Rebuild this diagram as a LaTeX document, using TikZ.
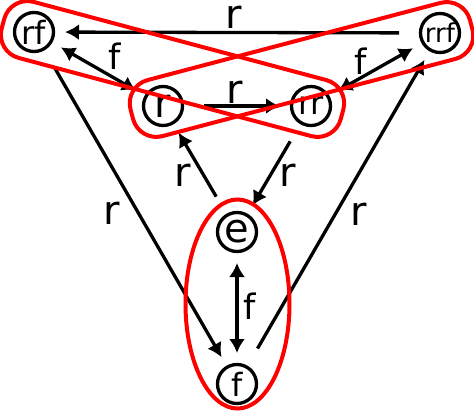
\documentclass[tikz,border=0pt]{standalone}
\usepackage{fontspec}
\setmainfont{DejaVu Sans}
\usetikzlibrary{arrows.meta,calc,shapes.geometric}
\begin{document}
\begin{tikzpicture}
      [x=1pt,y=-1pt,
      point/.style={circle,draw,line width=3.3pt,inner sep=0pt,minimum size=39pt,outer sep=11.5pt},
      txt/.style={font=\fontsize{#1}{#1}\selectfont,inner sep=1pt},
      group/.style={draw=red,line width=4pt,inner sep=0pt},
      oneway/.style={line width=3.3pt,-{Latex[length=14pt,width=16pt]},shorten <=10pt},
      twoway/.style={line width=3.3pt,{Latex[length=14pt,width=16pt]}-{Latex[length=14pt,width=16pt]}}
      ]
      \useasboundingbox (0,0) rectangle (474,412);
      \node (rf) at (34,32) [point,txt=32] {rf};
      \node (rrf) at (440,33) [point,txt=26] {rrf};
      \node (r) at (163,106) [point,txt=40] {r};
      \node (rr) at (311,106) [point,txt=32] {rr};
      \node (e) at (237,232) [point,txt=40] {e};
      \node (f) at (237,384) [point,txt=32] {f};

      \draw [oneway] (rrf) to (rf);
      \draw [twoway] (rf) to (r);
      \draw [oneway] (r) to (rr);
      \draw [twoway] (rrf) to (rr);
      \draw [oneway] (rr) to (e);
      \draw [oneway] (e) to (r);
      \draw [oneway] (rf) to (f);
      \draw [oneway] (f) to (rrf);
      \draw [twoway] (e) to (f);

      \node (rtop) at (234,17) [txt=40] {r};
      \node (fleft) at (115,56) [txt=35] {f};
      \node (rmid) at (235,92) [txt=40] {r};
      \node (fright) at (361,61) [txt=35] {f};
      \node (rup) at (183,175) [txt=40] {r};
      \node (rdown) at (288,175) [txt=40] {r};
      \node (rleft) at (112,213) [txt=40] {r};
      \node (rright) at (359,214) [txt=40] {r};
      \node (fbottom) at (250,306) [txt=35] {f};

      % the three red groups
      \node (down) at ($(rf)!0.5!(rr)$) [group,rectangle,rounded corners=24pt,rotate=-14.96,minimum width=351pt,minimum height=58pt] {};
      \node (up) at ($(r)!0.5!(rrf)$) [group,rectangle,rounded corners=24pt,rotate=14.76,minimum width=351pt,minimum height=58pt] {};
      \node (pair) at (237.5,304) [group,ellipse,minimum width=104pt,minimum height=209pt] {};
\end{tikzpicture}
\end{document}
